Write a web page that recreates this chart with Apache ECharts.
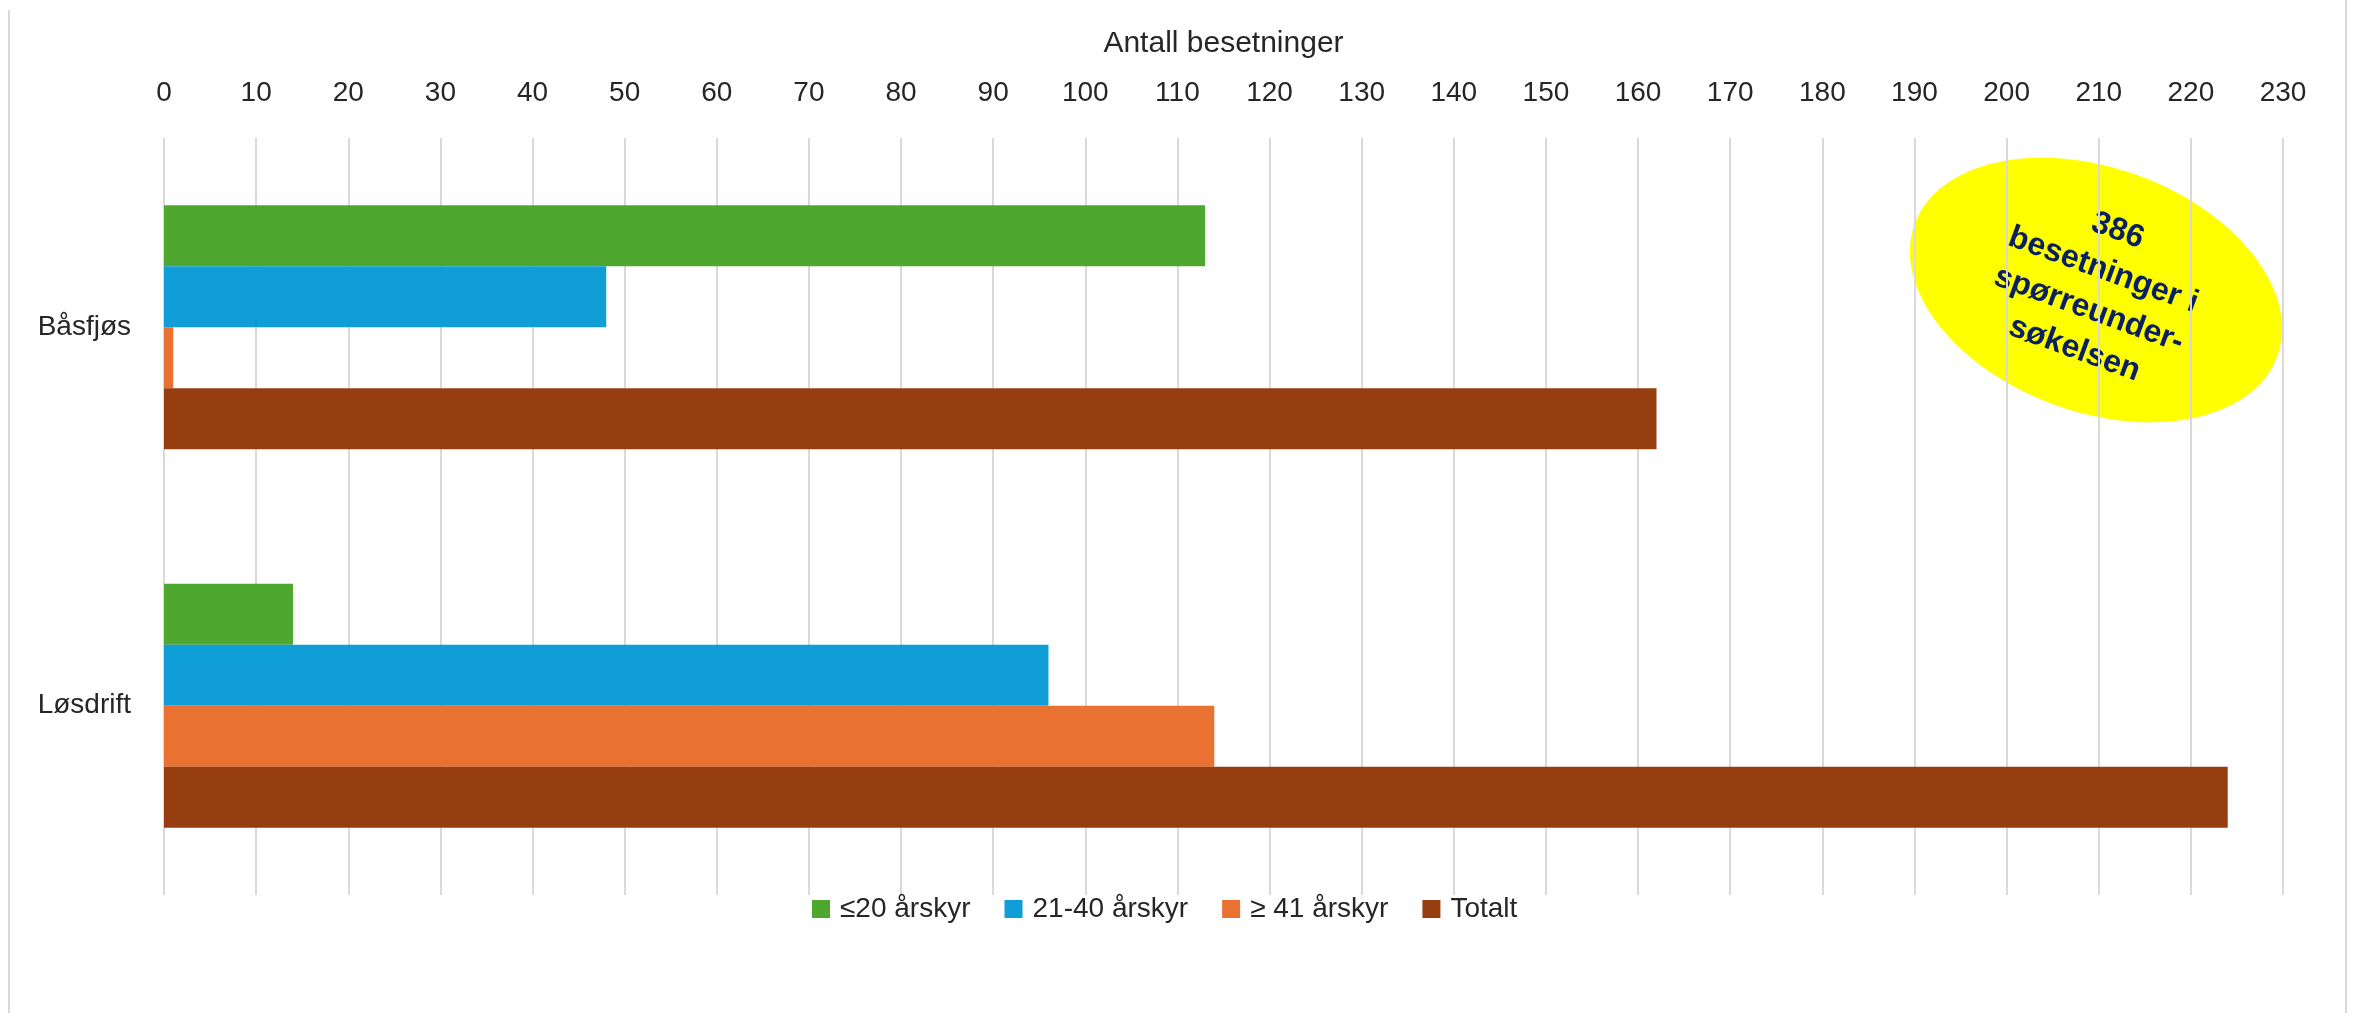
<!DOCTYPE html>
<html>
<head>
<meta charset="utf-8">
<script src="https://cdn.jsdelivr.net/npm/echarts@6/dist/echarts.min.js"></script>
<style>
html,body{margin:0;padding:0;background:#fff;}
#chart{width:2354px;height:1013px;}
</style>
</head>
<body>
<div id="chart"></div>
<script>
const categories = ['Båsfjøs', 'Løsdrift'];
const seriesNames = ['≤20 årskyr', '21-40 årskyr', '≥ 41 årskyr', 'Totalt'];
const small = [113, 14];
const medium = [48, 96];
const large = [1, 114];
const total = [162, 224];
const axisTitle = 'Antall besetninger';
const calloutText = '386\nbesetninger i\nspørreunder-\nsøkelsen';

const colors = ['#4EA72E', '#0F9ED5', '#E97132', '#973E10'];
const values = [small, medium, large, total];
const FONT = '"Liberation Sans", Arial, sans-serif';

const chart = echarts.init(document.getElementById('chart'), null, {renderer: 'canvas'});

chart.setOption({
  animation: false,
  backgroundColor: '#ffffff',
  textStyle: {fontFamily: FONT},
  grid: {left: 164, right: 71, top: 138, bottom: 118, containLabel: false},
  legend: {
    left: 807,
    top: 890,
    itemWidth: 18,
    itemHeight: 18,
    itemGap: 34,
    icon: 'rect',
    textStyle: {fontSize: 28, color: '#262626', fontFamily: FONT, padding: [0, 0, 0, 5]},
    data: seriesNames
  },
  xAxis: {
    type: 'value',
    position: 'top',
    min: 0,
    max: 230,
    interval: 10,
    name: axisTitle,
    nameLocation: 'middle',
    nameGap: 79,
    nameTextStyle: {fontSize: 30, color: '#262626', fontFamily: FONT},
    axisLine: {show: false},
    axisTick: {show: false},
    axisLabel: {fontSize: 28, color: '#262626', margin: 31, fontFamily: FONT},
    splitLine: {show: true, lineStyle: {color: '#d9d9d9', width: 2}}
  },
  yAxis: {
    type: 'category',
    inverse: true,
    data: categories,
    axisLine: {show: false},
    axisTick: {show: false},
    axisLabel: {fontSize: 28, color: '#262626', margin: 33, fontFamily: FONT}
  },
  series: seriesNames.map((n, i) => ({
    name: n,
    type: 'bar',
    data: values[i],
    barGap: '0%',
    barCategoryGap: '35.5%',
    itemStyle: {color: colors[i]}
  })),
  graphic: [
    {type: 'line', shape: {x1: 9, y1: 10, x2: 9, y2: 1013}, style: {stroke: '#d9d9d9', lineWidth: 2}},
    {type: 'line', shape: {x1: 2346, y1: 0, x2: 2346, y2: 1013}, style: {stroke: '#d9d9d9', lineWidth: 2}},
    {
      type: 'group',
      x: 2096,
      y: 290,
      rotation: -20 * Math.PI / 180,
      z: 100,
      children: [
        {type: 'ellipse', shape: {cx: 0, cy: 0, rx: 193, ry: 122}, style: {fill: '#FFFF00'}},
        {type: 'text', x: 0, y: 0, style: {text: calloutText, font: 'bold 32px "Liberation Sans", Arial, sans-serif', fill: '#0a2060', align: 'center', verticalAlign: 'middle', lineHeight: 42}}
      ]
    }
  ]
});
</script>
</body>
</html>
